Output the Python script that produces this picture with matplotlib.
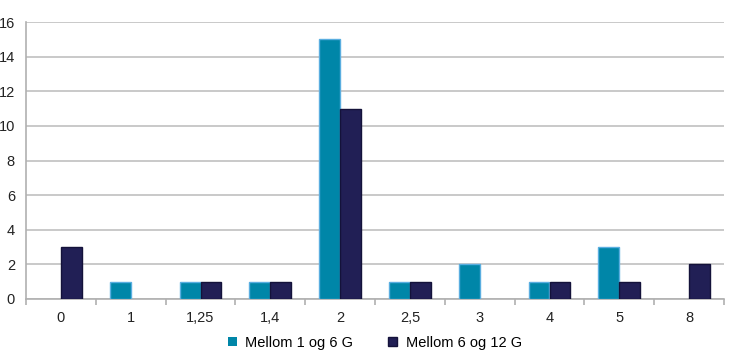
import matplotlib.pyplot as plt
import numpy as np

categories = ["0", "1", "1,25", "1,4", "2", "2,5", "3", "4", "5", "8"]
mellom_1_6 = [0, 1, 1, 1, 15, 1, 2, 1, 3, 0]
mellom_6_12 = [3, 0, 1, 1, 11, 1, 0, 1, 1, 2]

plt.rcParams['font.family'] = ['Liberation Sans', 'DejaVu Sans']

fig = plt.figure(figsize=(7.3, 3.64), dpi=100)
ax = fig.add_axes([26/730, 65/364, 698/730, 277/364])

x = np.arange(len(categories))
w = 0.3
lw1 = [1 if v > 0 else 0 for v in mellom_1_6]
lw2 = [1 if v > 0 else 0 for v in mellom_6_12]
ax.bar(x - w/2, mellom_1_6, w, color='#0086a8', edgecolor='#5aaee0', linewidth=lw1,
       label='Mellom 1 og 6 G', zorder=3)
ax.bar(x + w/2, mellom_6_12, w, color='#211f55', edgecolor='#14123a', linewidth=lw2,
       label='Mellom 6 og 12 G', zorder=3)

ax.set_xlim(-0.5, len(categories) - 0.5)
ax.set_ylim(0, 16)
ax.set_yticks(range(0, 17, 2))
ax.yaxis.grid(True, color='#c0c0c0', linewidth=1.2, zorder=0)
ax.set_xticks(x)
ax.set_xticklabels(categories)
ax.set_xticks(np.arange(-0.5, len(categories)), minor=True)
ax.tick_params(axis='x', which='major', length=0, pad=9, labelsize=10.5, colors='#222222')
ax.tick_params(axis='x', which='minor', length=4, color='#b0b0b0', width=1.2, direction='out')
ax.tick_params(axis='y', length=0, pad=8, labelsize=10.5, colors='#222222')
for s in ['top', 'right']:
    ax.spines[s].set_visible(False)
for s in ['left', 'bottom']:
    ax.spines[s].set_color('#b0b0b0')
    ax.spines[s].set_linewidth(1.2)

ax.legend(loc='upper center', bbox_to_anchor=(0.5, -0.085), ncol=2, frameon=False,
          fontsize=10.5, handlelength=0.6, handleheight=0.6, columnspacing=2.4,
          handletextpad=0.6)

fig.savefig('out.png', dpi=100)
